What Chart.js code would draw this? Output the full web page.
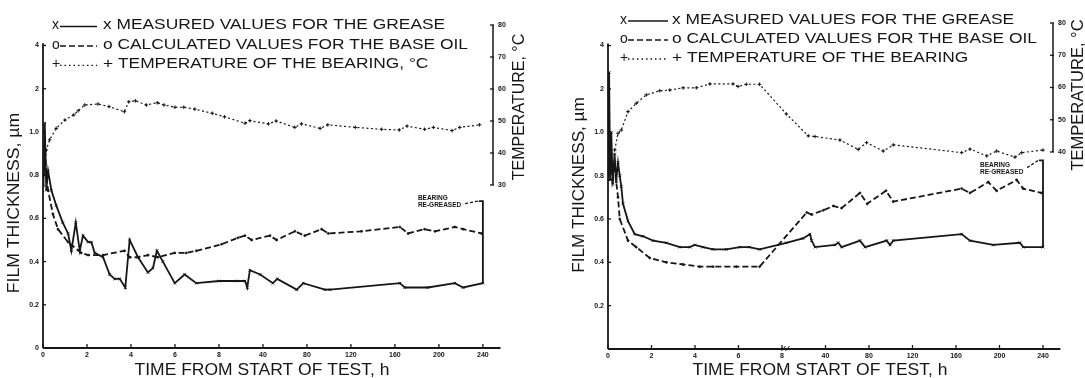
<!DOCTYPE html>
<html>
<head>
<meta charset="utf-8">
<script src="https://cdn.jsdelivr.net/npm/chart.js@4.4.1/dist/chart.umd.min.js"></script>
<style>
  html, body { margin: 0; padding: 0; background: #fff; }
  #wrap { position: relative; width: 1085px; height: 378px; overflow: hidden; }
  .box { position: absolute; top: 0; height: 378px; }
  #b1 { left: 0; width: 545px; }
  #b2 { left: 565px; width: 520px; }
</style>
</head>
<body>
<div id="wrap">
  <div class="box" id="b1"><canvas id="left"></canvas></div>
  <div class="box" id="b2"><canvas id="right"></canvas></div>
</div>
<script>
// tick labels (both axes are broken: equal spacing per label)
const xTickLabels = ['0', '2', '4', '6', '8', '40', '80', '120', '160', '200', '240'];
const filmTickLabels = ['0', '0.2', '0.4', '0.6', '0.8', '1.0', '2', '4'];

// left panel
const leftMeasHours = [0.02, 0.08, 0.15, 0.23, 0.38, 0.6, 0.9, 1.14, 1.29, 1.49, 1.67, 1.82, 2.05, 2.2, 2.35, 2.73, 3.03, 3.26, 3.49, 3.74, 3.94, 4.32, 4.77, 5.0, 5.18, 5.45, 5.99, 6.44, 6.97, 8, 21, 27, 28.6, 30.5, 38, 49, 53, 70.7, 76.7, 96.4, 101, 164.5, 169, 190, 214.5, 222, 240];
const leftMeasFilm = [0.75, 1.15, 0.73, 0.82, 0.73, 0.66, 0.58, 0.53, 0.45, 0.58, 0.45, 0.52, 0.49, 0.49, 0.44, 0.42, 0.34, 0.32, 0.32, 0.28, 0.50, 0.42, 0.35, 0.37, 0.45, 0.40, 0.30, 0.34, 0.30, 0.31, 0.31, 0.31, 0.28, 0.36, 0.34, 0.30, 0.32, 0.27, 0.30, 0.27, 0.27, 0.30, 0.28, 0.28, 0.30, 0.28, 0.30];
const leftCalcHours = [0.03, 0.1, 0.15, 0.23, 0.45, 0.68, 1.14, 1.74, 2.05, 2.73, 3.7, 3.94, 4.32, 4.77, 5.23, 5.99, 6.51, 6.97, 9.9, 21.8, 26.9, 31.8, 46.4, 52.4, 69, 78, 93.3, 99.4, 129.6, 164.5, 172, 187, 196.4, 214.5, 222, 238.8];
const leftCalcFilm = [0.80, 0.92, 0.80, 0.73, 0.62, 0.55, 0.49, 0.44, 0.43, 0.43, 0.45, 0.42, 0.42, 0.43, 0.42, 0.44, 0.44, 0.45, 0.48, 0.51, 0.52, 0.50, 0.52, 0.50, 0.54, 0.52, 0.55, 0.53, 0.54, 0.56, 0.53, 0.55, 0.54, 0.56, 0.55, 0.53];
const leftTempHours = [0.05, 0.15, 0.3, 0.6, 1.0, 1.4, 1.6, 1.9, 2.5, 3.0, 3.7, 3.9, 4.2, 4.7, 5.2, 5.5, 6.0, 6.4, 6.9, 7.7, 12, 27, 30.5, 45, 52, 69, 75, 92, 99, 124, 148, 164, 171, 187, 195, 212, 219, 237];
const leftTempC = [35, 40.9, 44.1, 47.7, 50.3, 51.9, 53.2, 55.0, 55.3, 54.5, 52.9, 56.0, 56.3, 55.0, 55.7, 55.0, 54.3, 54.3, 53.7, 52.4, 51.3, 49.3, 50.1, 49.1, 50.0, 48.0, 49.1, 47.7, 48.8, 48.0, 47.4, 47.2, 48.4, 47.4, 48.0, 47.0, 48.0, 48.8];
const leftTempTicks = [30, 40, 50, 60, 70, 80];
const leftRegreaseFilm = [0.30, 0.68];

// right panel
const rightMeasHours = [0.02, 0.05, 0.1, 0.15, 0.22, 0.3, 0.38, 0.46, 0.54, 0.61, 0.69, 0.92, 1.23, 1.61, 2.07, 2.68, 3.3, 3.76, 3.99, 4.37, 4.83, 5.44, 6.06, 6.5, 6.97, 11.2, 23.4, 28.6, 29.8, 32.3, 48.7, 51.7, 54.8, 71.7, 76.4, 96.3, 99.3, 102.3, 165.2, 172.9, 194.3, 218.8, 221.8, 240];
const rightMeasFilm = [0.80, 2.6, 0.78, 1.0, 0.76, 0.9, 0.78, 0.86, 0.80, 0.75, 0.67, 0.59, 0.53, 0.52, 0.50, 0.49, 0.47, 0.47, 0.48, 0.47, 0.46, 0.46, 0.47, 0.47, 0.46, 0.49, 0.51, 0.53, 0.50, 0.47, 0.48, 0.49, 0.47, 0.50, 0.47, 0.50, 0.48, 0.50, 0.53, 0.50, 0.48, 0.49, 0.47, 0.47];
const rightCalcHours = [0.02, 0.1, 0.2, 0.3, 0.38, 0.46, 0.54, 0.92, 1.3, 1.92, 2.68, 3.45, 4.21, 4.83, 5.9, 6.97, 26.2, 29.8, 38.4, 47.2, 54.8, 71.7, 78.4, 95.6, 102.3, 165.2, 172.9, 189.7, 197.4, 215.8, 221.8, 238.7];
const rightCalcFilm = [0.78, 0.95, 0.78, 0.85, 0.77, 0.70, 0.60, 0.50, 0.47, 0.42, 0.40, 0.39, 0.38, 0.38, 0.38, 0.38, 0.63, 0.62, 0.64, 0.66, 0.65, 0.72, 0.67, 0.73, 0.68, 0.74, 0.72, 0.77, 0.73, 0.78, 0.74, 0.72];
const rightTempHours = [0.31, 0.46, 0.61, 0.92, 1.3, 1.76, 2.38, 2.84, 3.45, 4.06, 4.68, 5.75, 5.98, 6.36, 6.97, 11.2, 27.3, 32.3, 53.3, 70.1, 77.8, 93.1, 102.3, 165.2, 172.9, 188.3, 197.4, 214.2, 220.4, 240];
const rightTempC = [40.6, 45.8, 46.8, 52.5, 55.1, 57.7, 59.0, 59.2, 59.9, 59.9, 61.1, 61.1, 60.3, 61.0, 61.0, 51.8, 45.0, 44.8, 43.7, 40.8, 42.9, 40.3, 42.2, 39.8, 40.9, 38.8, 40.3, 38.4, 39.8, 40.6];
const rightTempTicks = [40, 50, 60, 70, 80];
const rightRegreaseFilm = [0.47, 0.87];
const regreaseHour = 240;

const ink = '#161616';
const FONT = '"Liberation Sans", Arial, Helvetica, sans-serif';

// map hours / film thickness onto the broken axes
function timeToAxis(h) {
  if (h <= 8) return h / 2;
  if (h <= 40) return 4 + (h - 8) / 32;
  return 5 + (h - 40) / 40;
}
function filmToAxis(v) {
  return v <= 1 ? v / 0.2 : 5 + Math.log2(v);
}
function series(hours, vals, f) {
  return hours.map((h, i) => ({ x: timeToAxis(h), y: f(vals[i]) }));
}

function drawText(ctx, str, x, y, size, opt = {}) {
  ctx.save();
  ctx.translate(x, y);
  if (opt.rot) ctx.rotate(opt.rot);
  ctx.scale(opt.sx || 1, 1);
  ctx.font = (opt.bold ? 'bold ' : '') + size + 'px ' + FONT;
  ctx.textAlign = opt.align || 'left';
  ctx.textBaseline = 'middle';
  ctx.fillStyle = ink;
  ctx.fillText(str, 0, 0);
  ctx.restore();
}
function seg(ctx, pts, dash, lw) {
  ctx.save();
  ctx.beginPath();
  ctx.setLineDash(dash || []);
  ctx.lineWidth = lw || 1.5;
  ctx.strokeStyle = ink;
  pts.forEach((p, i) => i ? ctx.lineTo(p[0], p[1]) : ctx.moveTo(p[0], p[1]));
  ctx.stroke();
  ctx.restore();
}

function panelPlugin(p) {
  return {
    id: 'panel',
    afterDraw(chart) {
      const ctx = chart.ctx;
      const X = v => chart.scales.x.getPixelForValue(v);
      const Y = v => chart.scales.y.getPixelForValue(v);
      const T = v => chart.scales.t.getPixelForValue(v);
      const x0 = X(0), y0 = Y(0), tx = chart.chartArea.right;

      // axis lines and ticks
      seg(ctx, [[x0, y0], [X(10.4), y0]], null, 1.8);
      seg(ctx, [[x0, y0], [x0, Y(7.05)]], null, 1.8);
      seg(ctx, [[tx, T(p.tempTicks[0])], [tx, T(p.tempTicks[p.tempTicks.length - 1])]], null, 1.5);
      xTickLabels.forEach((_, i) => seg(ctx, [[X(i), y0], [X(i), y0 - 4]], null, 1.3));
      filmTickLabels.forEach((_, i) => seg(ctx, [[x0, Y(i)], [x0 + 3, Y(i)]], null, 1.3));
      p.tempTicks.forEach(v => seg(ctx, [[tx - 3, T(v)], [tx + 1, T(v)]], null, 1.3));

      // axis break mark
      if (p.breakMark) {
        const bx = X(4.08);
        seg(ctx, [[bx - 4, y0 + 2], [bx, y0 - 3]], null, 1);
        seg(ctx, [[bx, y0 + 2], [bx + 4, y0 - 3]], null, 1);
      }

      // axis titles
      drawText(ctx, 'TIME FROM START OF TEST, h', p.xTitle[0], p.xTitle[1], 16.5, { align: 'center', sx: 1.06 });
      drawText(ctx, 'FILM THICKNESS, \u00b5m', p.yTitle[0], p.yTitle[1], 16, { align: 'center', sx: p.yTitle[2], rot: -Math.PI / 2 });
      drawText(ctx, 'TEMPERATURE, \u00b0C', p.tTitle[0], p.tTitle[1], p.tTitle[2], { align: 'center', rot: -Math.PI / 2 });

      // legend
      const L = p.legend;
      const rows = [
        ['x', [], 'x MEASURED VALUES FOR THE GREASE'],
        ['o', [6, 3], 'o CALCULATED VALUES FOR THE BASE OIL'],
        ['+', [1.5, 3], L.lastText]
      ];
      rows.forEach((r, i) => {
        const y = L.ys[i];
        drawText(ctx, r[0], L.symX, y, 14);
        seg(ctx, [[L.lineFrom, y + 1], [L.lineTo, y + 1]], r[1], 1.3);
        drawText(ctx, r[2], L.textX, y, 14, { sx: 1.24 });
      });

      // bearing re-greased marker
      const R = p.regrease;
      const rx = X(timeToAxis(regreaseHour));
      const ry0 = Y(filmToAxis(R.film[0])), ry1 = Y(filmToAxis(R.film[1]));
      seg(ctx, [[rx, ry0], [rx, ry1], [rx - 4, ry1]], null, 1.8);
      seg(ctx, [[rx - 5, ry1], [rx + R.lead[0], ry1 + R.lead[1]]], [3, 2], 1.3);
      drawText(ctx, 'BEARING', rx + R.text[0], ry1 + R.text[1], 6.5, { bold: true });
      drawText(ctx, R.label2, rx + R.text[0], ry1 + R.text[2], 6.5, { bold: true });
    }
  };
}

function buildChart(id, p) {
  const tickFont = { family: FONT, size: 7, weight: 'bold' };
  new Chart(document.getElementById(id), {
    type: 'line',
    data: {
      datasets: [
        {
          data: series(p.measHours, p.measFilm, filmToAxis), yAxisID: 'y',
          borderColor: ink, borderWidth: 1.8, pointStyle: 'crossRot', pointRadius: 1.8,
          pointBorderWidth: 1, pointBorderColor: ink, pointBackgroundColor: ink
        },
        {
          data: series(p.calcHours, p.calcFilm, filmToAxis), yAxisID: 'y',
          borderColor: ink, borderWidth: 1.8, borderDash: [6, 3], pointStyle: 'circle', pointRadius: 1,
          pointBorderWidth: 0.8, pointBorderColor: ink, pointBackgroundColor: ink
        },
        {
          data: series(p.tempHours, p.tempC, v => v), yAxisID: 't',
          borderColor: ink, borderWidth: 1.2, borderDash: [2, 2.5], pointStyle: 'cross', pointRadius: 1.8,
          pointBorderWidth: 1, pointBorderColor: ink, pointBackgroundColor: ink
        }
      ]
    },
    options: {
      responsive: true,
      maintainAspectRatio: false,
      animation: false,
      devicePixelRatio: 1,
      layout: { padding: { top: 23, left: 0, right: 0, bottom: 0 } },
      plugins: { legend: { display: false }, tooltip: { enabled: false } },
      elements: { line: { tension: 0 } },
      scales: {
        x: {
          type: 'linear', min: 0, max: 10.23,
          grid: { display: false, drawTicks: false }, border: { display: false },
          afterBuildTicks: s => { s.ticks = xTickLabels.map((_, i) => ({ value: i })); },
          ticks: { autoSkip: false, maxRotation: 0, padding: 3, color: ink, font: tickFont, callback: v => xTickLabels[v] },
          afterFit: s => { s.height = p.xHeight; }
        },
        y: {
          type: 'linear', position: 'left', min: 0, max: 7.52,
          grid: { display: false, drawTicks: false }, border: { display: false },
          afterBuildTicks: s => { s.ticks = filmTickLabels.map((_, i) => ({ value: i })); },
          ticks: { autoSkip: false, padding: 4, color: ink, font: tickFont, callback: v => p.filmLabels[v] },
          afterFit: s => { s.width = 43; }
        },
        t: {
          type: 'linear', position: 'right', min: p.tempMin, max: p.tempMax,
          grid: { display: false, drawTicks: false }, border: { display: false },
          afterBuildTicks: s => { s.ticks = p.tempTicks.map(v => ({ value: v })); },
          ticks: { autoSkip: false, padding: 5, color: ink, font: tickFont },
          afterFit: s => { s.width = p.tempWidth; }
        }
      }
    },
    plugins: [panelPlugin(p)]
  });
}

buildChart('left', {
  measHours: leftMeasHours, measFilm: leftMeasFilm,
  calcHours: leftCalcHours, calcFilm: leftCalcFilm,
  tempHours: leftTempHours, tempC: leftTempC,
  tempTicks: leftTempTicks, tempMin: -20.94, tempMax: 80.62, tempWidth: 52,
  filmLabels: filmTickLabels, xHeight: 30, breakMark: false,
  xTitle: [262, 370], yTitle: [15, 203, 1.1], tTitle: [520, 107, 16],
  legend: { symX: 52, lineFrom: 60, lineTo: 97, textX: 103, ys: [25.5, 45, 64.3], lastText: '+ TEMPERATURE OF THE BEARING, \u00b0C' },
  regrease: { film: leftRegreaseFilm, lead: [-20, 3], text: [-65, -3, 4], label2: 'RE-GREASED' }
});

buildChart('right', {
  measHours: rightMeasHours, measFilm: rightMeasFilm,
  calcHours: rightCalcHours, calcFilm: rightCalcFilm,
  tempHours: rightTempHours, tempC: rightTempC,
  tempTicks: rightTempTicks, tempMin: -21.09, tempMax: 80, tempWidth: 32,
  filmLabels: ['', '0.2', '0.4', '0.6', '0.8', '1.0', '2', '4'], xHeight: 29, breakMark: true,
  xTitle: [255, 370], yTitle: [15, 185, 1.07], tTitle: [513, 95, 16.5],
  legend: { symX: 55, lineFrom: 63, lineTo: 103, textX: 107, ys: [20, 39, 58], lastText: '+ TEMPERATURE OF THE BEARING' },
  regrease: { film: rightRegreaseFilm, lead: [-17, 8], text: [-63, 5, 12], label2: 'RE\u00b7GREASED' }
});
</script>
</body>
</html>
